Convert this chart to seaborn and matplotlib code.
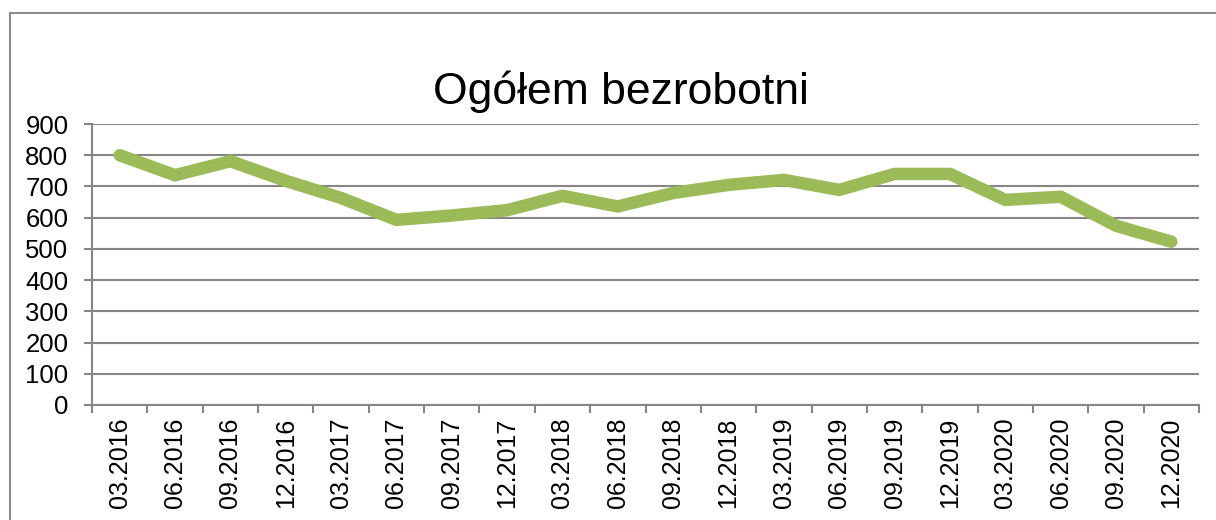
import matplotlib
matplotlib.use("Agg")
import matplotlib.pyplot as plt
from matplotlib.patches import Rectangle
from matplotlib.ticker import MultipleLocator, FixedLocator
import seaborn as sns
import pandas as pd
import numpy as np

okresy = ["03.2016", "06.2016", "09.2016", "12.2016",
          "03.2017", "06.2017", "09.2017", "12.2017",
          "03.2018", "06.2018", "09.2018", "12.2018",
          "03.2019", "06.2019", "09.2019", "12.2019",
          "03.2020", "06.2020", "09.2020", "12.2020"]
bezrobotni = [800, 736, 781, 718, 663, 593, 607, 624, 670, 636,
              679, 705, 721, 689, 740, 740, 657, 667, 574, 523]
tytul = "Ogółem bezrobotni"

df = pd.DataFrame({"okres": okresy, "bezrobotni": bezrobotni})

sns.set_theme(style="white")
plt.rcParams['font.family'] = ['Liberation Sans', 'DejaVu Sans']

W, H = 1216, 520
fig = plt.figure(figsize=(W / 100, H / 100), dpi=100)
ax = fig.add_axes([92 / W, 1 - 405 / H, (1199 - 92) / W, (405 - 124) / H])

grid_c = "#868686"
sns.lineplot(data=df, x="okres", y="bezrobotni", ax=ax, sort=False,
             color="#9BBB59", linewidth=9, solid_capstyle="round",
             solid_joinstyle="miter")

ax.set_xlim(-0.5, len(okresy) - 0.5)
ax.set_ylim(0, 900)
ax.yaxis.set_major_locator(MultipleLocator(100))
ax.set_xticks(range(len(okresy)))
ax.set_xticklabels(okresy, rotation=90, fontsize=18)
ax.xaxis.set_minor_locator(FixedLocator(np.arange(-0.5, len(okresy), 1.0)))
ax.tick_params(axis="x", which="major", length=0, pad=9)
ax.tick_params(axis="x", which="minor", length=6, width=1.5, color=grid_c, bottom=True)
ax.tick_params(axis="y", which="major", length=6, width=1.5, color=grid_c, left=True,
               labelsize=18.5, pad=11)
for lab in ax.get_yticklabels() + ax.get_xticklabels():
    lab.set_color("black")

ax.grid(axis="y", color=grid_c, linewidth=1.5)
ax.grid(axis="x", visible=False)
for s in ["top", "right"]:
    ax.spines[s].set_visible(False)
for s in ["left", "bottom"]:
    ax.spines[s].set_color(grid_c)
    ax.spines[s].set_linewidth(1.5)
ax.set_xlabel("")
ax.set_ylabel("")
ax.set_axisbelow(True)

fig.text(621 / W, 1 - 92 / H, tytul, ha="center", va="center", fontsize=32, color="black")

fig.patches.append(Rectangle((10 / W, -0.1), 1.2, 1.1 - 13 / H, transform=fig.transFigure,
                             fill=False, edgecolor="#8c8c8c", linewidth=1.5))

fig.savefig("out.png", dpi=100)
